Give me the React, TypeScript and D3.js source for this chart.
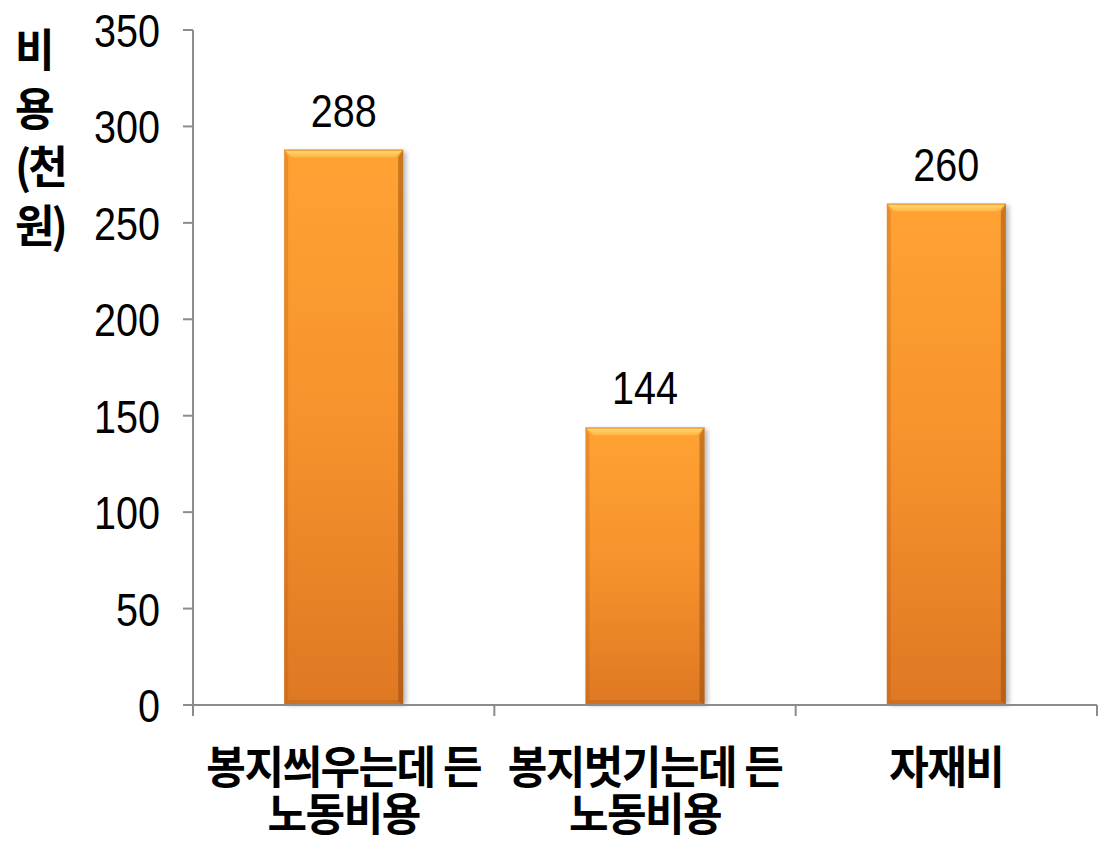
import React from "react";
import * as d3 from "d3";

const categories: string[][] = [
  ["봉지씌우는데 든", "노동비용"],
  ["봉지벗기는데 든", "노동비용"],
  ["자재비"],
];
const values: number[] = [288, 144, 260];
const yTicks: number[] = [0, 50, 100, 150, 200, 250, 300, 350];
const yTitle: string[] = ["비", "용", "(천", "원)"];

const W = 1104;
const H = 852;
const NUM_FONT = '"Liberation Sans", Arial, sans-serif';
const KR_FONT = '"Noto Sans CJK KR", "Noto Sans", sans-serif';

function ScaledText(props: {
  x: number;
  y: number;
  sx: number;
  sy: number;
  anchor: "start" | "middle" | "end";
  font: string;
  size: number;
  weight?: number;
  spacing?: number;
  children: React.ReactNode;
}) {
  const { x, y, sx, sy, anchor, font, size, weight, spacing, children } = props;
  return (
    <text
      transform={`translate(${x},${y}) scale(${sx},${sy})`}
      x={0}
      y={0}
      textAnchor={anchor}
      fontFamily={font}
      fontSize={size}
      fontWeight={weight ?? 400}
      letterSpacing={spacing ?? 0}
      fill="#000"
    >
      {children}
    </text>
  );
}

export default function App() {
  const keys = categories.map((_, i) => String(i));
  const x = d3.scaleBand<string>().domain(keys).range([193, 1097]).paddingInner(0.605).paddingOuter(0.3025);
  const y = d3.scaleLinear().domain([0, 350]).range([705, 30]);
  const step = x.step();
  const bw = x.bandwidth();
  const boundaries = d3.range(categories.length + 1).map((i) => 193 + i * step);

  return (
    <svg width={W} height={H} style={{ position: "absolute", left: 0, top: 0, background: "#fff" }}>
      <defs>
        <linearGradient id="barGrad" x1="0" y1="0" x2="0" y2="1">
          <stop offset="0" stopColor="#FFA233" />
          <stop offset="0.5" stopColor="#F6922C" />
          <stop offset="1" stopColor="#DE7823" />
        </linearGradient>
        <linearGradient id="topGrad" x1="0" y1="0" x2="0" y2="1">
          <stop offset="0" stopColor="#FFE07A" />
          <stop offset="1" stopColor="#FFB443" />
        </linearGradient>
        <filter id="shadow" x="-20%" y="-20%" width="140%" height="140%">
          <feGaussianBlur stdDeviation="2.5" />
        </filter>
      </defs>

      {/* bars */}
      {values.map((v, i) => {
        const bx = x(String(i))!;
        const by = y(v);
        const bh = y(0) - by;
        const b = 8;
        return (
          <g key={i}>
            <rect x={bx + 3} y={by + 2} width={bw} height={bh - 2} fill="#000" opacity={0.28} filter="url(#shadow)" />
            <rect x={bx} y={by} width={bw} height={bh} fill="url(#barGrad)" />
            <polygon
              points={`${bx},${by} ${bx + 4},${by + b} ${bx + 4},${by + bh - 4} ${bx},${by + bh}`}
              fill="#A85510"
              opacity={0.25}
            />
            <polygon
              points={`${bx + bw},${by} ${bx + bw - 5},${by + b} ${bx + bw - 5},${by + bh - 4} ${bx + bw},${by + bh}`}
              fill="#8A4208"
              opacity={0.45}
            />
            <polygon
              points={`${bx},${by + bh} ${bx + 4},${by + bh - 5} ${bx + bw - 5},${by + bh - 5} ${bx + bw},${by + bh}`}
              fill="#9A4C0C"
              opacity={0.2}
            />
            <polygon
              points={`${bx},${by} ${bx + bw},${by} ${bx + bw - b},${by + b} ${bx + b},${by + b}`}
              fill="url(#topGrad)"
            />
            <rect x={bx} y={by} width={bw} height={1.5} fill="#E88A2A" opacity={0.7} />
          </g>
        );
      })}

      {/* axes */}
      <line x1={193} y1={y(350)} x2={193} y2={y(0)} stroke="#8C8C8C" strokeWidth={2} />
      <line x1={183} y1={y(0)} x2={1097} y2={y(0)} stroke="#8C8C8C" strokeWidth={2} />
      {yTicks.map((t) => (
        <line key={t} x1={183} y1={y(t)} x2={193} y2={y(t)} stroke="#8C8C8C" strokeWidth={2} />
      ))}
      {boundaries.map((bx, i) => (
        <line key={i} x1={bx} y1={y(0)} x2={bx} y2={y(0) + 11} stroke="#8C8C8C" strokeWidth={2} />
      ))}

      {/* y tick labels */}
      {yTicks.map((t) => (
        <ScaledText key={t} x={160} y={y(t) + 17} sx={0.86} sy={1} anchor="end" font={NUM_FONT} size={46}>
          {t}
        </ScaledText>
      ))}

      {/* data labels */}
      {values.map((v, i) => (
        <ScaledText
          key={i}
          x={x(String(i))! + bw / 2}
          y={y(v) - 23}
          sx={0.86}
          sy={1}
          anchor="middle"
          font={NUM_FONT}
          size={46}
        >
          {v}
        </ScaledText>
      ))}

      {/* category labels */}
      {categories.map((lines, i) =>
        lines.map((l, j) => (
          <ScaledText
            key={`${i}-${j}`}
            x={x(String(i))! + bw / 2}
            y={784 + j * 47}
            sx={1}
            sy={1.06}
            anchor="middle"
            font={KR_FONT}
            size={43}
            weight={700}
            spacing={-1.5}
          >
            {l}
          </ScaledText>
        ))
      )}

      {/* y title */}
      {yTitle.map((s, i) => (
        <ScaledText
          key={i}
          x={15}
          y={67 + i * 58.5}
          sx={1}
          sy={1.06}
          anchor="start"
          font={KR_FONT}
          size={43}
          weight={700}
          spacing={-3}
        >
          {s}
        </ScaledText>
      ))}
    </svg>
  );
}
